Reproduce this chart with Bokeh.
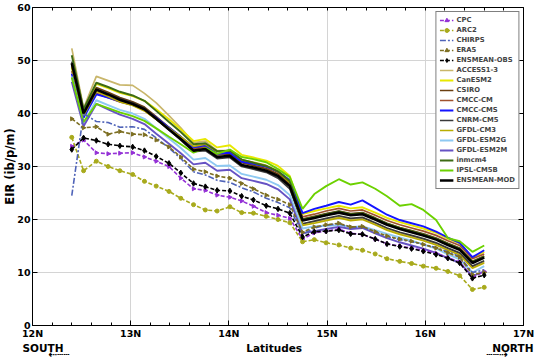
from bokeh.plotting import figure
from bokeh.models import (Range1d, FixedTicker, LinearAxis, Legend, LegendItem)
from bokeh.embed import file_html
from bokeh.resources import INLINE

lats = [12.40, 12.52, 12.65, 12.77, 12.89, 13.02, 13.14, 13.26, 13.39, 13.51,
        13.64, 13.76, 13.88, 14.01, 14.13, 14.25, 14.38, 14.50, 14.62, 14.75,
        14.87, 14.99, 15.12, 15.24, 15.36, 15.49, 15.61, 15.74, 15.86, 15.98,
        16.11, 16.23, 16.35, 16.48, 16.60]

# observations
cpc = [33.8, 35.0, 32.6, 32.4, 32.5, 32.6, 31.8, 31.0, 30.0, 27.8,
       25.8, 25.5, 24.6, 24.2, 23.5, 22.5, 21.3, 20.8, 20.2, 16.3,
       17.5, 17.8, 18.2, 17.4, 17.2, 16.3, 15.4, 15.0, 14.6, 14.2,
       13.6, 12.8, 12.0, 9.0, 10.2]
arc2 = [35.5, 29.2, 31.0, 30.0, 29.2, 28.5, 27.2, 26.3, 25.3, 24.0,
        22.8, 21.8, 21.6, 22.4, 21.3, 21.2, 20.6, 20.0, 19.4, 15.8,
        16.2, 15.6, 15.2, 14.6, 14.2, 13.5, 12.6, 12.1, 11.7, 11.2,
        10.8, 10.2, 9.4, 6.8, 7.2]
chirps = [24.5, 40.0, 38.5, 38.3, 37.4, 37.5, 37.0, 35.4, 33.5, 31.5,
          29.0, 28.4, 27.4, 27.0, 26.0, 25.2, 24.0, 23.2, 22.2, 17.2,
          18.4, 18.9, 19.2, 18.5, 18.6, 17.6, 16.8, 16.2, 15.8, 15.3,
          14.7, 13.9, 13.0, 10.0, 10.5]
era5 = [39.0, 37.3, 37.5, 36.1, 36.6, 36.1, 36.0, 35.0, 33.7, 31.8,
        29.5, 29.0, 28.2, 27.8, 26.8, 25.8, 24.6, 23.8, 22.8, 17.6,
        18.6, 19.0, 19.3, 18.6, 18.7, 17.7, 16.9, 16.3, 15.9, 15.3,
        14.6, 13.7, 12.9, 9.6, 10.0]
ens_obs = [33.2, 35.4, 34.9, 34.2, 33.9, 33.7, 33.0, 31.9, 30.6, 28.8,
           26.8, 26.2, 25.5, 25.4, 24.4, 23.7, 22.6, 22.0, 21.2, 16.7,
           17.7, 17.8, 18.0, 17.3, 17.2, 16.3, 15.4, 14.9, 14.5, 14.0,
           13.4, 12.7, 11.8, 8.9, 9.5]

# models
access = [52.3, 41.0, 47.0, 46.2, 45.4, 45.3, 43.8, 42.0, 39.6, 37.3,
          34.5, 34.8, 33.0, 33.0, 31.0, 30.2, 29.4, 28.2, 26.0, 19.2,
          19.6, 20.0, 20.5, 20.0, 20.2, 19.2, 18.2, 17.4, 16.8, 16.2,
          15.4, 14.4, 13.5, 11.0, 12.0]
canesm2 = [48.8, 40.5, 45.6, 44.8, 43.9, 43.3, 42.4, 40.8, 38.9, 37.0,
           34.8, 35.2, 33.6, 34.0, 32.2, 31.7, 31.1, 30.1, 28.2, 21.0,
           21.6, 22.1, 22.6, 22.1, 22.3, 21.3, 20.3, 19.5, 18.9, 18.3,
           17.5, 16.4, 15.5, 12.8, 13.9]
csiro = [49.2, 40.3, 44.9, 44.0, 43.0, 42.2, 41.2, 39.4, 37.4, 35.6,
         33.4, 33.7, 32.2, 32.4, 30.7, 30.2, 29.6, 28.6, 26.7, 20.1,
         20.6, 21.1, 21.6, 21.1, 21.3, 20.3, 19.3, 18.5, 17.9, 17.3,
         16.5, 15.5, 14.6, 12.1, 13.1]
cmcc_cm = [48.0, 39.6, 43.8, 43.0, 42.2, 41.6, 40.6, 38.9, 37.0, 35.3,
           33.3, 33.7, 32.3, 32.6, 31.0, 30.5, 29.9, 28.9, 27.0, 20.5,
           21.0, 21.6, 22.1, 21.6, 21.8, 20.8, 19.8, 19.0, 18.4, 17.8,
           17.0, 16.0, 15.1, 12.6, 13.5]
cmcc_cms = [47.5, 39.2, 43.6, 43.0, 42.3, 41.6, 40.8, 39.2, 37.3, 35.6,
            33.6, 34.0, 32.4, 32.6, 30.9, 30.5, 30.0, 29.1, 27.4, 21.2,
            22.0, 22.6, 23.3, 22.8, 23.6, 22.2, 20.9, 19.9, 19.3, 18.7,
            17.7, 16.6, 15.6, 12.9, 14.2]
cnrm = [49.8, 40.1, 44.6, 43.7, 42.8, 42.0, 41.0, 39.0, 36.9, 35.0,
        32.8, 33.0, 31.5, 31.7, 30.0, 29.5, 28.9, 27.8, 25.8, 19.2,
        19.7, 20.2, 20.7, 20.2, 20.4, 19.4, 18.4, 17.6, 17.0, 16.4,
        15.6, 14.6, 13.7, 11.2, 12.2]
gfdl_cm3 = [48.6, 39.6, 44.2, 43.2, 42.2, 41.5, 40.5, 38.9, 37.2, 35.6,
            33.8, 34.2, 32.8, 33.0, 31.3, 30.8, 30.2, 29.1, 27.0, 18.9,
            19.3, 19.8, 20.3, 19.8, 20.0, 19.0, 18.0, 17.2, 16.6, 16.0,
            15.2, 14.2, 13.3, 10.8, 11.8]
gfdl_esm2g = [47.0, 38.2, 42.5, 41.6, 40.7, 40.0, 39.0, 37.2, 35.3, 33.5,
              31.3, 31.6, 30.1, 30.2, 28.6, 28.1, 27.5, 26.5, 24.6, 18.3,
              18.7, 18.8, 18.9, 18.6, 18.7, 18.0, 17.3, 16.6, 16.0, 15.3,
              14.5, 13.4, 12.5, 10.0, 11.2]
gfdl_esm2m = [46.0, 37.6, 41.8, 40.8, 39.8, 39.0, 38.0, 36.2, 34.3, 32.5,
              30.4, 30.7, 29.2, 29.4, 27.8, 27.3, 26.7, 25.7, 23.8, 17.4,
              17.8, 18.2, 18.6, 18.2, 18.4, 17.4, 16.5, 15.7, 15.1, 14.5,
              13.7, 12.7, 11.8, 9.3, 10.2]
inmcm4 = [51.0, 40.8, 45.8, 45.0, 44.1, 43.4, 42.4, 40.5, 38.4, 36.5,
          34.2, 34.4, 32.9, 33.0, 31.3, 30.7, 30.1, 29.1, 27.2, 20.0,
          20.5, 21.0, 21.5, 21.0, 21.2, 20.2, 19.2, 18.4, 17.8, 17.2,
          16.4, 15.4, 14.5, 12.0, 13.0]
ipsl = [46.8, 38.4, 41.8, 41.0, 40.2, 39.5, 38.6, 37.2, 35.6, 34.2,
        32.6, 33.5, 32.4, 33.2, 31.8, 31.4, 30.8, 29.5, 28.0, 22.0,
        24.8, 26.3, 27.6, 26.6, 27.0, 25.8, 24.4, 22.6, 22.9, 21.8,
        19.9, 16.5, 15.9, 13.9, 15.1]
ens_mod = [49.5, 40.0, 44.5, 43.6, 42.6, 41.8, 40.8, 39.0, 37.0, 35.2,
           33.0, 33.3, 31.8, 32.0, 30.3, 29.8, 29.2, 28.2, 26.3, 19.8,
           20.3, 20.8, 21.3, 20.8, 21.0, 20.0, 19.0, 18.2, 17.6, 17.0,
           16.2, 15.2, 14.3, 11.8, 12.8]

x_ticks = [12, 13, 14, 15, 16, 17]
x_tick_labels = ["12N", "13N", "14N", "15N", "16N", "17N"]
y_ticks = [0, 10, 20, 30, 40, 50, 60]

FONT = "DejaVu Sans"
NB = "\u00a0"

p = figure(width=540, height=363, output_backend="svg", toolbar_location=None,
           x_range=Range1d(12, 17), y_range=Range1d(0, 60),
           min_border_left=0, min_border_right=17, min_border_top=7,
           min_border_bottom=0, x_axis_location=None, y_axis_location=None)
p.outline_line_color = None
p.background_fill_color = "white"

minor = [12 + 0.2 * k for k in range(26)]


def base_axis(ax):
    ax.axis_line_color = "black"
    ax.axis_line_width = 1
    ax.major_tick_in = 5
    ax.major_tick_out = 0
    ax.minor_tick_in = 3
    ax.minor_tick_out = 0
    ax.major_tick_line_color = "black"
    ax.minor_tick_line_color = "black"


def label_axis(ax, size):
    ax.major_label_text_font = FONT
    ax.major_label_text_font_style = "bold"
    ax.major_label_text_font_size = "9.5px"
    ax.major_label_text_color = "black"
    ax.major_label_standoff = 2
    ax.axis_label_text_font = FONT
    ax.axis_label_text_font_style = "bold"
    ax.axis_label_text_color = "black"
    ax.axis_label_text_font_size = size
    ax.axis_label_standoff = 0


line1 = "SOUTH" + NB * 50 + "Latitudes" + NB * 52 + "NORTH"
line2 = "\u21e0\u2504\u2504" + NB * 114 + "\u2504\u2504\u21e2"
xb = LinearAxis(ticker=FixedTicker(ticks=x_ticks, minor_ticks=minor),
                axis_label=line1 + "\n" + line2,
                major_label_overrides={t: s for t, s in zip(x_ticks, x_tick_labels)})
base_axis(xb)
label_axis(xb, "10.5px")
xb.axis_label_text_line_height = 0.55
p.add_layout(xb, "below")

# frame box: top and right edges carry only tick marks (no labels)
xa = LinearAxis(ticker=FixedTicker(ticks=[], minor_ticks=minor))
base_axis(xa)
xa.minor_tick_in = 3
p.add_layout(xa, "above")

yl = LinearAxis(ticker=FixedTicker(ticks=y_ticks, minor_ticks=[]),
                axis_label="EIR (ib/p/m)")
base_axis(yl)
label_axis(yl, "11.5px")
yl.major_label_standoff = 2
yl.axis_label_standoff = -3
p.add_layout(yl, "left")

yr = LinearAxis(ticker=FixedTicker(ticks=[], minor_ticks=y_ticks))
base_axis(yr)
yr.minor_tick_in = 5
p.add_layout(yr, "right")

p.xgrid.ticker = FixedTicker(ticks=x_ticks)
p.ygrid.ticker = FixedTicker(ticks=y_ticks)
p.xgrid.grid_line_color = "#d4d4d4"
p.ygrid.grid_line_color = "#d4d4d4"

items = {}

models = [
    ("ACCESS1-3", access, "#c9b66b", 1.7),
    ("CanESM2", canesm2, "#e8e800", 1.9),
    ("CSIRO", csiro, "#6b3f10", 1.7),
    ("CMCC-CM", cmcc_cm, "#a0522d", 1.7),
    ("CMCC-CMS", cmcc_cms, "#1414ff", 1.9),
    ("CNRM-CM5", cnrm, "#3a3a3a", 1.7),
    ("GFDL-CM3", gfdl_cm3, "#b9ad00", 1.7),
    ("GFDL-ESM2G", gfdl_esm2g, "#8ec9f2", 1.9),
    ("GFDL-ESM2M", gfdl_esm2m, "#6652c4", 1.9),
    ("inmcm4", inmcm4, "#3d6b14", 1.9),
    ("IPSL-CM5B", ipsl, "#6cd100", 1.9),
]
for name, vals, col, w in models:
    r = p.line(lats, vals, line_color=col, line_width=w)
    items[name] = [r]

r = p.line(lats, ens_mod, line_color="black", line_width=2.6)
items["ENSMEAN-MOD"] = [r]

obs = [
    ("CPC", cpc, "#9431d6", "4 2", "triangle", -1.5708),
    ("ARC2", arc2, "#a8aa1c", "4 2", "circle", 0.0),
    ("CHIRPS", chirps, "#4f63b8", "6 2 2 2", None, 0.0),
    ("ERA5", era5, "#7d6f22", "4 2", "triangle", -1.5708),
    ("ENSMEAN-OBS", ens_obs, "black", "4 2", "diamond", 0.0),
]
for name, vals, col, dash, mk, ang in obs:
    rl = p.line(lats, vals, line_color=col, line_width=1.6, line_dash=dash)
    rs = [rl]
    if mk is not None:
        sz = 5.5 if mk == "diamond" else 4
        rm = p.scatter(lats, vals, marker=mk, size=sz, angle=ang,
                       fill_color=col, line_color=col)
        rs.append(rm)
    items[name] = rs

order = ["CPC", "ARC2", "CHIRPS", "ERA5", "ENSMEAN-OBS", "ACCESS1-3", "CanESM2",
         "CSIRO", "CMCC-CM", "CMCC-CMS", "CNRM-CM5", "GFDL-CM3", "GFDL-ESM2G",
         "GFDL-ESM2M", "inmcm4", "IPSL-CM5B", "ENSMEAN-MOD"]
legend = Legend(items=[LegendItem(label=n, renderers=items[n]) for n in order],
                location="top_right")
legend.label_text_font = FONT
legend.label_text_font_style = "bold"
legend.label_text_font_size = "6.8px"
legend.label_height = 10
legend.glyph_height = 10
legend.glyph_width = 14
legend.label_standoff = 3
legend.spacing = 0
legend.padding = 3
legend.margin = 4
legend.border_line_color = "black"
legend.border_line_width = 1
legend.background_fill_alpha = 1
p.add_layout(legend, "center")

open("out.html", "w").write(file_html(p, INLINE))
